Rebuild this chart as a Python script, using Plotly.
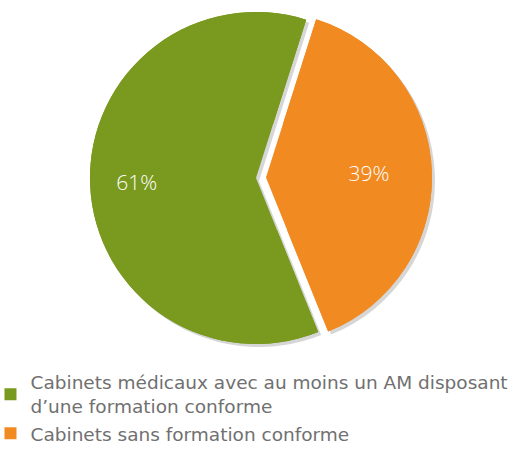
import plotly.graph_objects as go

labels = ["Cabinets médicaux avec au moins un AM disposant<br>d’une formation conforme",
          "Cabinets sans formation conforme"]
values = [61, 39]
colors = ["#7a9a1f", "#f28a22"]
pulls = [0, 0.06]

W, H = 514, 450
# pie domain in pixels (left, right, top, bottom)
px_l, px_r, px_t, px_b = 80, 432, 0, 356
dom = dict(x=[px_l / W, px_r / W], y=[1 - px_b / H, 1 - px_t / H])
sh = 3  # shadow offset
dom_sh = dict(x=[(px_l + sh) / W, (px_r + sh) / W],
              y=[1 - (px_b + sh) / H, 1 - (px_t + sh) / H])

common = dict(labels=labels, values=values, sort=False, direction="clockwise",
              rotation=158, pull=pulls)

fig = go.Figure()

# soft shadow behind the pie
fig.add_trace(go.Pie(
    **common, domain=dom_sh,
    marker=dict(colors=["rgba(0,0,0,0.16)"] * 2, line=dict(width=0)),
    textinfo="none", hoverinfo="skip", showlegend=False,
))

# full pie (fills the centre)
fig.add_trace(go.Pie(
    **common, domain=dom,
    marker=dict(colors=colors, line=dict(width=0)),
    textinfo="none", hoverinfo="skip", showlegend=False,
))

# same pie as a ring, so the labels sit further out
fig.add_trace(go.Pie(
    **common, domain=dom, hole=0.34,
    marker=dict(colors=colors, line=dict(width=0)),
    texttemplate="%{value}%\u00a0\u00a0\u00a0", textposition="inside",
    insidetextorientation="horizontal",
    textfont=dict(color="white", size=21, family="Open Sans", weight=300),
    hoverinfo="label+percent",
))

fig.update_layout(
    width=W, height=H,
    margin=dict(l=0, r=0, t=0, b=0, autoexpand=False),
    paper_bgcolor="white",
    font=dict(family="DejaVu Sans", color="#707070"),
    legend=dict(
        x=-0.0185, y=-0.006, xanchor="left", yanchor="bottom",
        font=dict(size=18.5, color="#707070", family="DejaVu Sans"),
        tracegroupgap=0,
    ),
)

fig.write_html("out.html", config={"displayModeBar": False},
               post_script="document.body.style.margin='0';")
